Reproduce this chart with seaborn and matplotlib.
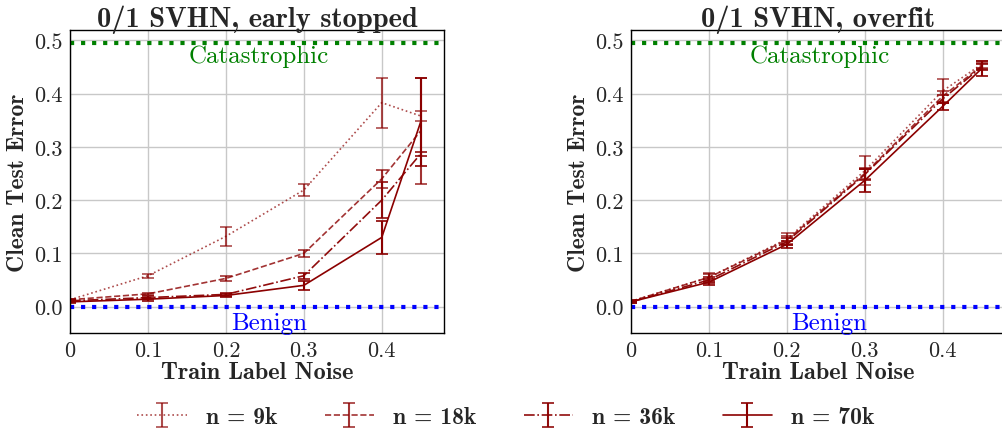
import numpy as np
import matplotlib
matplotlib.use('Agg')
import matplotlib.pyplot as plt
import seaborn as sns

sns.set_theme(style='white')
plt.rcParams['font.family'] = ['cmr10', 'DejaVu Serif']
plt.rcParams['axes.formatter.use_mathtext'] = True
plt.rcParams['axes.unicode_minus'] = False

# data
noise = [0, 0.1, 0.2, 0.3, 0.4, 0.45]
labels = ['n = 9k', 'n = 18k', 'n = 36k', 'n = 70k']

early_mean = {
    'n = 9k':  [0.013, 0.058, 0.132, 0.219, 0.383, 0.358],
    'n = 18k': [0.013, 0.024, 0.053, 0.100, 0.240, 0.330],
    'n = 36k': [0.011, 0.017, 0.023, 0.058, 0.200, 0.287],
    'n = 70k': [0.009, 0.014, 0.021, 0.040, 0.130, 0.347],
}
early_err = {
    'n = 9k':  [0.002, 0.004, 0.018, 0.011, 0.047, 0.010],
    'n = 18k': [0.002, 0.002, 0.005, 0.006, 0.017, 0.100],
    'n = 36k': [0.002, 0.003, 0.003, 0.006, 0.034, 0.004],
    'n = 70k': [0.002, 0.003, 0.003, 0.008, 0.031, 0.082],
}
over_mean = {
    'n = 9k':  [0.010, 0.055, 0.127, 0.255, 0.405, 0.455],
    'n = 18k': [0.010, 0.055, 0.125, 0.250, 0.395, 0.452],
    'n = 36k': [0.009, 0.050, 0.122, 0.248, 0.390, 0.450],
    'n = 70k': [0.009, 0.046, 0.117, 0.237, 0.376, 0.447],
}
over_err = {
    'n = 9k':  [0.002, 0.008, 0.012, 0.027, 0.022, 0.006],
    'n = 18k': [0.002, 0.006, 0.008, 0.010, 0.010, 0.006],
    'n = 36k': [0.002, 0.005, 0.006, 0.010, 0.008, 0.006],
    'n = 70k': [0.002, 0.005, 0.006, 0.021, 0.006, 0.014],
}

styles = {'n = 9k': ':', 'n = 18k': '--', 'n = 36k': '-.', 'n = 70k': '-'}
alphas = {'n = 9k': 0.7, 'n = 18k': 0.8, 'n = 36k': 0.95, 'n = 70k': 1.0}

fig = plt.figure(figsize=(10.02, 4.31), dpi=100)
ax1 = fig.add_axes([0.0699, 0.2244, 0.3733, 0.7044])
ax2 = fig.add_axes([0.6297, 0.2244, 0.3733, 0.7044])

def draw(ax, means, errs, title):
    handles = []
    for lab in labels:
        h = ax.errorbar(noise, means[lab], yerr=errs[lab], color='darkred',
                        linestyle=styles[lab], linewidth=1.2, capsize=4,
                        elinewidth=1.5, capthick=1.2, alpha=alphas[lab], label=lab)
        handles.append(h)
    ax.axhline(0.495, color='green', linestyle=':', linewidth=3)
    ax.axhline(0.0, color='blue', linestyle=':', linewidth=3)
    ax.text(0.242, 0.472, 'Catastrophic', color='green', fontsize=18,
            ha='center', va='center')
    ax.text(0.255, -0.03, 'Benign', color='blue', fontsize=18,
            ha='center', va='center')
    ax.set_xlim(0, 0.48)
    ax.set_ylim(-0.05, 0.52)
    ax.set_xticks([0, 0.1, 0.2, 0.3, 0.4])
    ax.set_xticklabels(['0', '0.1', '0.2', '0.3', '0.4'])
    ax.set_yticks([0.0, 0.1, 0.2, 0.3, 0.4, 0.5])
    ax.set_yticklabels(['0.0', '0.1', '0.2', '0.3', '0.4', '0.5'])
    ax.tick_params(labelsize=16, length=0, pad=5)
    ax.grid(True, color='#c8c8c8', linewidth=1)
    ax.set_axisbelow(True)
    for s in ax.spines.values():
        s.set_color('black')
        s.set_linewidth(1)
    ax.set_title(title, family='cmb10', fontsize=20.5, pad=3)
    ax.set_xlabel('Train Label Noise', family='cmb10', fontsize=17.5, labelpad=1)
    ax.set_ylabel('Clean Test Error', family='cmb10', fontsize=17, labelpad=4)
    return handles

handles = draw(ax1, early_mean, early_err, '0/1 SVHN, early stopped')
draw(ax2, over_mean, over_err, '0/1 SVHN, overfit')

fig.legend(handles, labels, loc='lower center', bbox_to_anchor=(0.505, -0.045),
           ncol=4, frameon=False, prop={'family': 'cmb10', 'size': 17},
           handlelength=2.1, columnspacing=2.0, handletextpad=0.8)

fig.savefig('out.png', dpi=100)
